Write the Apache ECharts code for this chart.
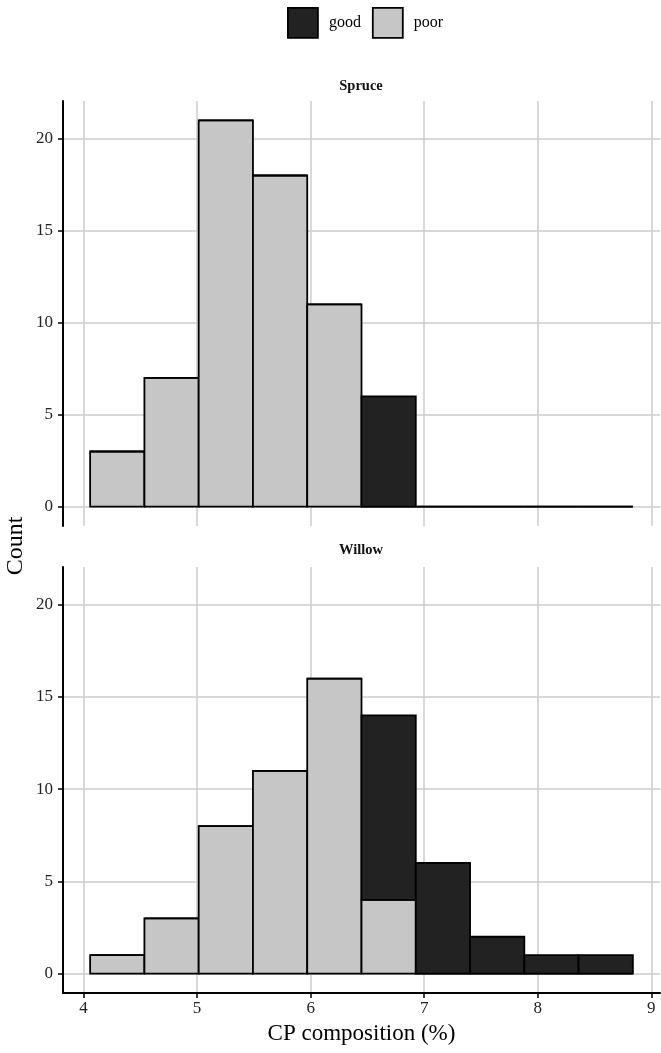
<!DOCTYPE html>
<html>
<head>
<meta charset="utf-8">
<script src="https://cdn.jsdelivr.net/npm/echarts@6/dist/echarts.min.js"></script>
<style>
html, body { margin: 0; padding: 0; background: #fff; }
#main { width: 661px; height: 1053px; }
</style>
</head>
<body>
<div id="main"></div>
<script>
// histogram bins (left edges) and counts per facet / class
var binStart = [4.058, 4.536, 5.014, 5.492, 5.970, 6.448, 6.926, 7.404, 7.882, 8.360];
var binWidth = 0.478;
var sprucePoor = [3, 7, 21, 18, 11, 0, 0, 0, 0, 0];
var spruceGood = [0, 0, 0, 0, 0, 6, 0, 0, 0, 0];
var willowPoor = [1, 3, 8, 11, 16, 4, 0, 0, 0, 0];
var willowGood = [0, 0, 0, 0, 0, 10, 6, 2, 1, 1];
var xTicks = [4, 5, 6, 7, 8, 9];
var yTicks = [0, 5, 10, 15, 20];
var facets = ['Spruce', 'Willow'];

var serif = '"Liberation Serif", "DejaVu Serif", serif';
var myChart = echarts.init(document.getElementById('main'));

// rows: [x0, x1, bottom, top]
function rows(counts, base) {
	return counts.map(function(c, i) {
		var b = base ? base[i] : 0;
		return [binStart[i], binStart[i] + binWidth, b, b + c];
	});
}

function renderBar(params, api) {
	var p0 = api.coord([api.value(0), api.value(2)]);
	var p1 = api.coord([api.value(1), api.value(3)]);
	return {
		type: 'rect',
		shape: { x: p0[0], y: p1[1], width: p1[0] - p0[0], height: p0[1] - p1[1] },
		style: { fill: api.visual('color'), stroke: '#000', lineWidth: 1.8 }
	};
}

var gridLine = { show: true, showMinLine: true, showMaxLine: true, lineStyle: { color: '#cccccc', width: 1.5 } };

function yAxisOf(idx) {
	return {
		type: 'value', gridIndex: idx, min: -1.05, max: 22.05,
		axisLine: { show: true, lineStyle: { color: '#000', width: 2 } },
		axisTick: { show: true, customValues: yTicks, length: 5, lineStyle: { color: '#000', width: 1.5 } },
		axisLabel: { customValues: yTicks, fontFamily: serif, fontSize: 17, color: '#222', margin: 10 },
		splitLine: gridLine
	};
}

function xAxisOf(idx, bottom) {
	return {
		type: 'value', gridIndex: idx, min: 3.819, max: 9.077, position: 'bottom',
		axisLine: { show: bottom, onZero: false, lineStyle: { color: '#000', width: 2 } },
		axisTick: { show: bottom, customValues: xTicks, length: 5, lineStyle: { color: '#000', width: 1.5 } },
		axisLabel: { show: bottom, customValues: xTicks, fontFamily: serif, fontSize: 17, color: '#222', margin: 7 },
		splitLine: gridLine,
		name: bottom ? 'CP composition (%)' : '',
		nameLocation: 'middle', nameGap: 29,
		nameTextStyle: { fontFamily: serif, fontSize: 23, color: '#000' }
	};
}

var goodColor = '#222222';
var poorColor = '#c6c6c6';

option = {
	animation: false,
	backgroundColor: '#fff',
	legend: {
		data: ['good', 'poor'],
		left: 282, top: 2,
		icon: 'rect', itemWidth: 30, itemHeight: 30, itemGap: 11,
		itemStyle: { borderColor: '#000', borderWidth: 1.8 },
		textStyle: { fontFamily: serif, fontSize: 16, color: '#000', padding: [0, 0, 0, 6] }
	},
	grid: [
		{ left: 63, right: 1, top: 101, height: 425 },
		{ left: 63, right: 1, top: 567, height: 426 }
	],
	xAxis: [xAxisOf(0, false), xAxisOf(1, true)],
	yAxis: [yAxisOf(0), yAxisOf(1)],
	graphic: [
		{ type: 'text', style: { text: facets[0], x: 361, y: 86, align: 'center', verticalAlign: 'middle', font: 'bold 14.5px ' + serif, fill: '#111' } },
		{ type: 'text', style: { text: facets[1], x: 361, y: 550, align: 'center', verticalAlign: 'middle', font: 'bold 14.5px ' + serif, fill: '#111' } },
		{ type: 'text', rotation: Math.PI / 2, x: 16, y: 546, style: { text: 'Count', x: 0, y: 0, align: 'center', verticalAlign: 'middle', font: '24px ' + serif, fill: '#000' } }
	],
	series: [
		{ name: 'poor', type: 'custom', xAxisIndex: 0, yAxisIndex: 0, itemStyle: { color: poorColor },
			encode: { x: [0, 1], y: [2, 3] }, renderItem: renderBar, data: rows(sprucePoor) },
		{ name: 'good', type: 'custom', xAxisIndex: 0, yAxisIndex: 0, itemStyle: { color: goodColor },
			encode: { x: [0, 1], y: [2, 3] }, renderItem: renderBar, data: rows(spruceGood, sprucePoor) },
		{ name: 'poor', type: 'custom', xAxisIndex: 1, yAxisIndex: 1, itemStyle: { color: poorColor },
			encode: { x: [0, 1], y: [2, 3] }, renderItem: renderBar, data: rows(willowPoor) },
		{ name: 'good', type: 'custom', xAxisIndex: 1, yAxisIndex: 1, itemStyle: { color: goodColor },
			encode: { x: [0, 1], y: [2, 3] }, renderItem: renderBar, data: rows(willowGood, willowPoor) }
	]
};

myChart.setOption(option);
</script>
</body>
</html>
